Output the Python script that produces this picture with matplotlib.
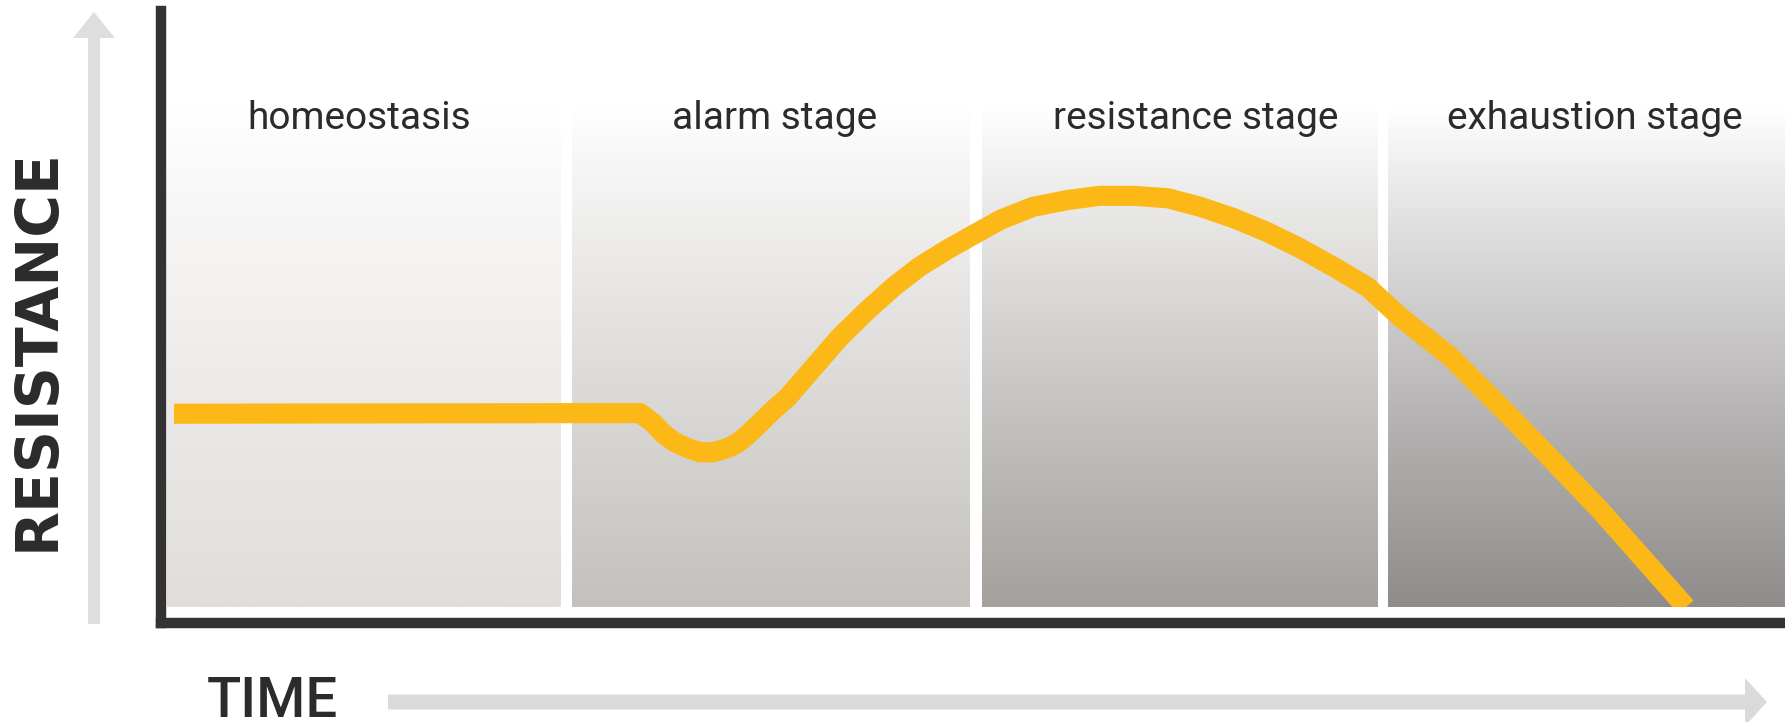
import numpy as np
import matplotlib
matplotlib.use("Agg")
import matplotlib.pyplot as plt
from matplotlib.colors import to_rgb
from matplotlib.patches import FancyArrow, Rectangle
from matplotlib.transforms import IdentityTransform

plt.rcParams["font.family"] = ["Roboto", "DejaVu Sans"]

# stages of the general adaptation syndrome (time in % of the axis)
stages = ["homeostasis", "alarm stage", "resistance stage", "exhaustion stage"]
stage_start = [0.4, 25.3, 50.55, 75.55]
stage_end = [24.6, 49.8, 74.9, 100.0]
label_time = [12.2, 37.8, 63.7, 88.3]
shade_bottom = ["#e0ddda", "#c4c1bd", "#a4a19d", "#8f8c8b"]

# resistance curve
time = [0.8, 29.5, 30.3, 30.9, 31.6, 32.4, 33.2, 34.0, 34.9, 35.5, 36.1,
        36.9, 37.7, 38.6, 40.2, 41.8, 43.5, 45.1, 46.7, 48.4, 50.0, 51.7,
        53.7, 55.8, 57.8, 59.9, 62.0, 64.0, 66.0, 68.1, 70.1, 72.2, 74.3,
        76.3, 79.4, 82.5, 85.5, 88.6, 91.7, 93.9]
resistance = [34.2, 34.3, 32.7, 31.0, 29.6, 28.6, 27.9, 27.9, 28.6, 29.4,
              30.7, 32.7, 34.8, 36.9, 41.8, 46.7, 51.1, 54.9, 58.2, 61.0,
              63.4, 65.9, 68.0, 69.1, 69.8, 69.8, 69.4, 68.0, 66.2, 63.9,
              61.3, 58.2, 54.9, 50.0, 43.5, 35.3, 27.1, 18.5, 9.2, 2.6]

panel_low, panel_high = 2.6, 84.0

W, H = 1785, 722
fig = plt.figure(figsize=(W / 100, H / 100), dpi=100)
fig.patch.set_facecolor("white")
ax = fig.add_axes([161 / W, 99 / H, 1624 / W, 612 / H])
ax.set_facecolor("white")

# shaded stage panels, white at the top fading to grey
s = np.linspace(0, 1, 300) ** 0.9
white = np.ones(3)
for x0, x1, c1 in zip(stage_start, stage_end, shade_bottom):
    bot = np.array(to_rgb(c1))
    grad = white + (bot - white) * s[:, None]
    ax.imshow(grad[:, None, :], extent=[x0, x1, panel_low, panel_high],
              aspect="auto", origin="upper", interpolation="bilinear", zorder=1)

for name, t in zip(stages, label_time):
    ax.text(t, 80.7, name, ha="center", va="baseline", fontsize=28,
            color="#2b2b2b", zorder=4)

line, = ax.plot(time, resistance, color="#fbb817", lw=14.5,
                solid_capstyle="butt", solid_joinstyle="round", zorder=3)
line.set_clip_path(Rectangle((0, panel_low), 100, 100, transform=ax.transData))

ax.set_xlim(0, 100)
ax.set_ylim(0, 100)
ax.set_xticks([])
ax.set_yticks([])
for side in ["top", "right"]:
    ax.spines[side].set_visible(False)
for side in ["left", "bottom"]:
    ax.spines[side].set_color("#333333")
    ax.spines[side].set_linewidth(7.5)
    ax.spines[side].set_capstyle("projecting")

# axis titles and arrows, in figure pixels
fig.text(37 / W, 372 / H, "RESISTANCE", rotation=90, ha="center", va="center",
         fontsize=42, fontweight="bold", family="DejaVu Sans", color="#2b2b2b")
fig.text(272 / W, 5 / H, "TIME", ha="center", va="baseline",
         fontsize=40.5, fontweight="medium", color="#2b2b2b")

fig.add_artist(FancyArrow(94, 98, 0, 612, width=12, head_width=42,
                          head_length=26, length_includes_head=True,
                          color="#dedede", lw=0, transform=IdentityTransform()))
fig.add_artist(FancyArrow(388, 20, 1379, 0, width=15, head_width=48,
                          head_length=22, length_includes_head=True,
                          color="#dadada", lw=0, transform=IdentityTransform()))

fig.savefig("out.png", dpi=100)
